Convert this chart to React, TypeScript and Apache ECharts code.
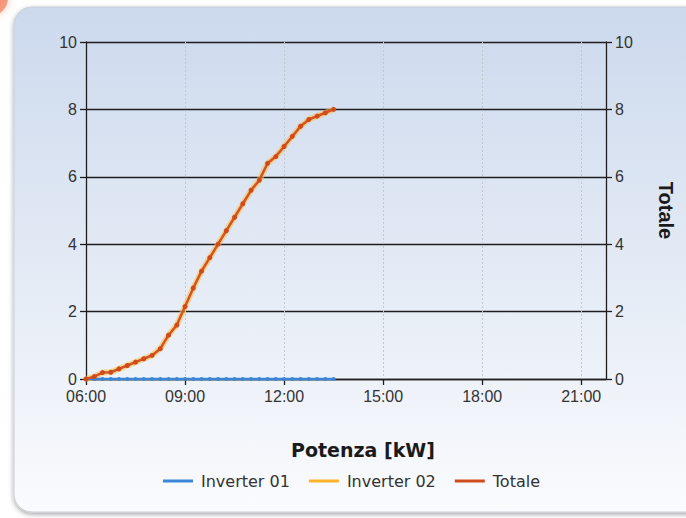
import React, { useEffect, useRef } from 'react';
import * as echarts from 'echarts';

// 15-minute time slots from 06:00 to 21:45
const timeSlots: string[] = [];
for (let h = 6; h <= 21; h++) {
  for (const m of ['00', '15', '30', '45']) {
    timeSlots.push(`${h < 10 ? '0' + h : h}:${m}`);
  }
}

const seriesNames = ['Inverter 01', 'Inverter 02', 'Totale'];

const inverter01 = [
  0, 0, 0, 0, 0, 0, 0, 0, 0, 0, 0, 0, 0, 0, 0, 0,
  0, 0, 0, 0, 0, 0, 0, 0, 0, 0, 0, 0, 0, 0, 0,
];

const inverter02 = [
  0, 0.07, 0.19, 0.2, 0.3, 0.4, 0.5, 0.6, 0.7, 0.9, 1.3, 1.6, 2.15, 2.7, 3.2, 3.6,
  4.0, 4.4, 4.8, 5.2, 5.6, 5.9, 6.4, 6.6, 6.9, 7.2, 7.5, 7.7, 7.8, 7.9, 8.0,
];

const totale = [
  0, 0.07, 0.19, 0.2, 0.3, 0.4, 0.5, 0.6, 0.7, 0.9, 1.3, 1.6, 2.15, 2.7, 3.2, 3.6,
  4.0, 4.4, 4.8, 5.2, 5.6, 5.9, 6.4, 6.6, 6.9, 7.2, 7.5, 7.7, 7.8, 7.9, 8.0,
];

const yTicks = { min: 0, max: 10, interval: 2 };

export default function App() {
  const ref = useRef<HTMLDivElement>(null);

  useEffect(() => {
    if (!ref.current) return;
    const chart = echarts.init(ref.current, null, { renderer: 'svg' });
    const axisColor = '#1e1e1e';
    const labelFont = { fontFamily: 'Liberation Sans, Arial, sans-serif', fontSize: 16, color: '#333' };

    chart.setOption({
      animation: false,
      backgroundColor: '#ffffff',
      graphic: [
        {
          type: 'circle',
          z: -20,
          shape: { cx: -10, cy: -2, r: 18 },
          style: { fill: '#f26a45', opacity: 0.6, shadowBlur: 10, shadowColor: 'rgba(240,90,40,0.5)' },
        },
        {
          type: 'rect',
          z: -10,
          shape: { x: 14, y: 7, width: 700, height: 505, r: 18 },
          style: {
            fill: new echarts.graphic.LinearGradient(0, 0, 0, 1, [
              { offset: 0, color: '#ccd9ed' },
              { offset: 0.5, color: '#e3eaf5' },
              { offset: 1, color: '#fafbfd' },
            ]),
            stroke: '#c9ced6',
            lineWidth: 1,
            shadowBlur: 5,
            shadowOffsetY: 2,
            shadowColor: 'rgba(0,0,0,0.35)',
          },
        },
      ],
      title: {
        text: 'Potenza [kW]',
        left: 286,
        top: 435,
        textStyle: { fontFamily: 'DejaVu Sans, Verdana, sans-serif', fontWeight: 'bold', fontSize: 19, color: '#1a1a1a' },
      },
      legend: {
        data: seriesNames,
        left: 158,
        top: 468,
        icon: 'rect',
        itemWidth: 30,
        itemHeight: 3,
        itemGap: 19,
        textStyle: { fontFamily: 'DejaVu Sans, Verdana, sans-serif', fontSize: 16, color: '#333', padding: [0, 0, 0, 3] },
      },
      grid: { left: 86, right: 80, top: 42, bottom: 139 },
      xAxis: {
        type: 'category',
        data: timeSlots,
        boundaryGap: false,
        axisLine: { show: true, lineStyle: { color: axisColor, width: 1.3 } },
        axisTick: { show: true, interval: 11, length: 6, lineStyle: { color: axisColor, width: 1.3 } },
        axisLabel: { interval: 11, margin: 9, ...labelFont },
        splitLine: { show: true, interval: 11, lineStyle: { color: '#c3c8d0', type: [2, 2], width: 1 } },
      },
      yAxis: [
        {
          type: 'value',
          ...yTicks,
          position: 'left',
          axisLine: { show: true, lineStyle: { color: axisColor, width: 1.3 } },
          axisTick: { show: true, length: 6, lineStyle: { color: axisColor, width: 1.3 } },
          axisLabel: { margin: 9, ...labelFont },
          splitLine: { show: true, lineStyle: { color: axisColor, width: 1.3 } },
        },
        {
          type: 'value',
          ...yTicks,
          position: 'right',
          name: 'Totale',
          nameLocation: 'middle',
          nameRotate: -90,
          nameGap: 50,
          nameTextStyle: { fontFamily: 'Liberation Sans, Arial, sans-serif', fontWeight: 'bold', fontSize: 20, color: '#1a1a1a' },
          axisLine: { show: true, lineStyle: { color: axisColor, width: 1.3 } },
          axisTick: { show: true, length: 6, lineStyle: { color: axisColor, width: 1.3 } },
          axisLabel: { margin: 9, ...labelFont },
          splitLine: { show: false },
        },
      ],
      series: [
        {
          name: seriesNames[1],
          type: 'line',
          data: inverter02,
          yAxisIndex: 0,
          symbol: 'none',
          itemStyle: { color: '#fdb22a' },
          lineStyle: { color: 'rgba(253,190,70,0.55)', width: 6 },
          z: 2,
        },
        {
          name: seriesNames[0],
          type: 'line',
          data: inverter01,
          yAxisIndex: 0,
          symbol: 'circle',
          symbolSize: 4,
          showSymbol: true,
          itemStyle: { color: '#3b86d6' },
          lineStyle: { color: '#3b86d6', width: 2.5 },
          z: 3,
        },
        {
          name: seriesNames[2],
          type: 'line',
          data: totale,
          yAxisIndex: 1,
          symbol: 'circle',
          symbolSize: 5,
          showSymbol: true,
          itemStyle: { color: '#cf4a1c' },
          lineStyle: { color: '#d4531f', width: 2.5 },
          z: 4,
        },
      ],
    });

    return () => chart.dispose();
  }, []);

  return (
    <div
      ref={ref}
      style={{ position: 'absolute', left: 0, top: 0, width: 686, height: 518 }}
    />
  );
}
